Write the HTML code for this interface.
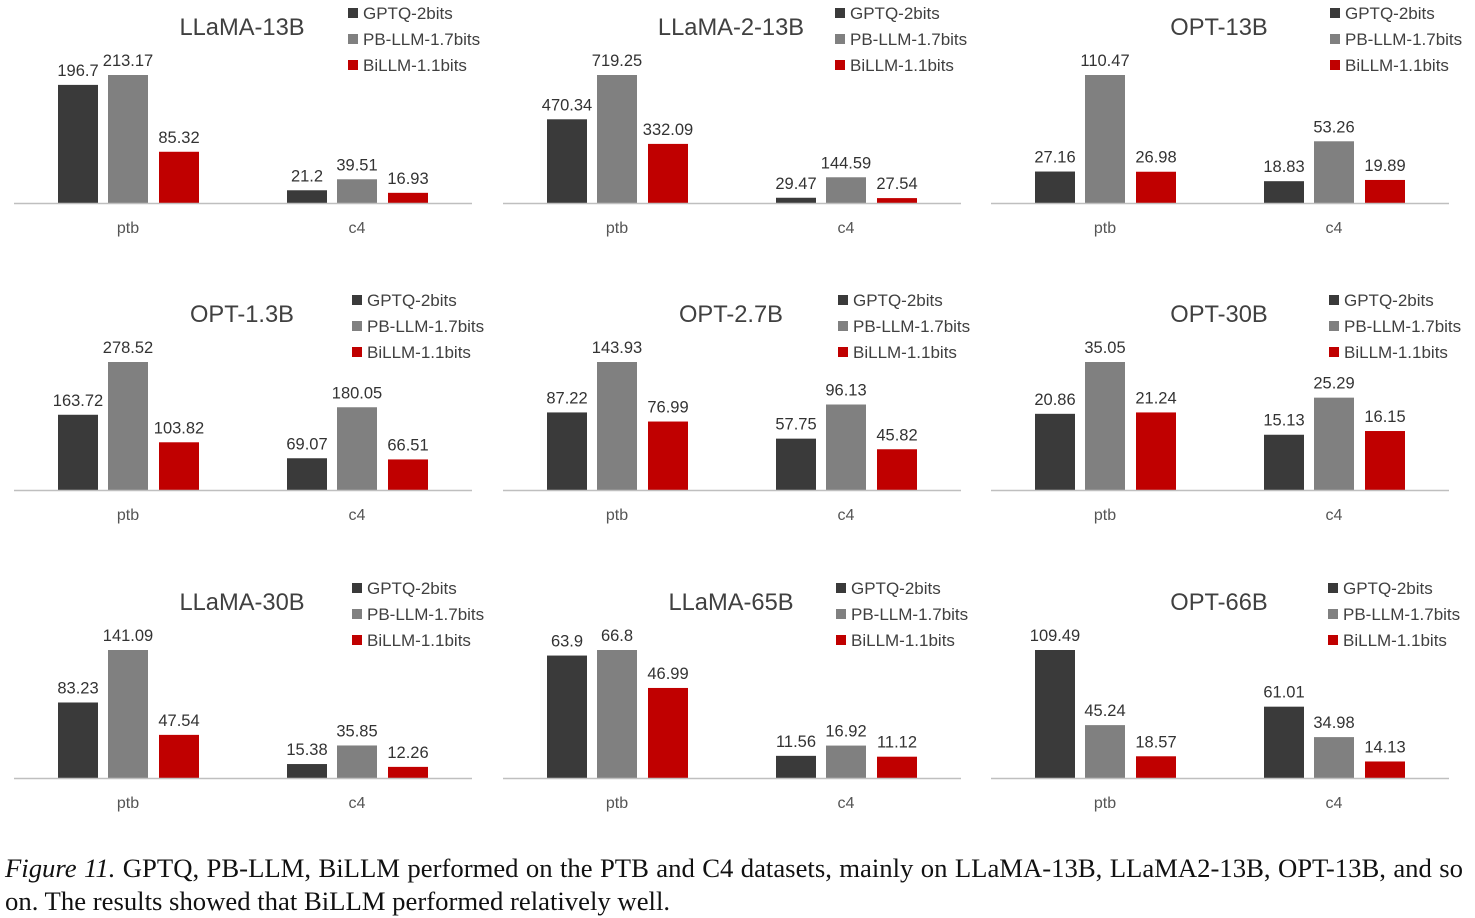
<!DOCTYPE html>
<html><head><meta charset="utf-8"><style>
html,body{margin:0;padding:0;background:#fff;}
body{width:1475px;height:918px;overflow:hidden;position:relative;font-family:"Liberation Sans",sans-serif;}
#cap{position:absolute;left:5px;top:852px;width:1458px;font-family:"Liberation Serif",serif;font-size:26.7px;color:#111;line-height:33px;}
#cap .l1{text-align:justify;text-align-last:justify;white-space:nowrap;}
</style></head><body>
<svg id="chart" width="1475" height="840" xmlns="http://www.w3.org/2000/svg"></svg>
<div id="cap">
<div class="l1"><i>Figure 11.</i> GPTQ, PB-LLM, BiLLM performed on the PTB and C4 datasets, mainly on LLaMA-13B, LLaMA2-13B, OPT-13B, and so</div>
<div>on. The results showed that BiLLM performed relatively well.</div>
</div>
<script>
const panelTitles = ["LLaMA-13B","LLaMA-2-13B","OPT-13B","OPT-1.3B","OPT-2.7B","OPT-30B","LLaMA-30B","LLaMA-65B","OPT-66B"];
const categories = ["ptb","c4"];
const seriesNames = ["GPTQ-2bits","PB-LLM-1.7bits","BiLLM-1.1bits"];
const gptqPtb = [196.7,470.34,27.16,163.72,87.22,20.86,83.23,63.9,109.49];
const pbPtb   = [213.17,719.25,110.47,278.52,143.93,35.05,141.09,66.8,45.24];
const billmPtb= [85.32,332.09,26.98,103.82,76.99,21.24,47.54,46.99,18.57];
const gptqC4  = [21.2,29.47,18.83,69.07,57.75,15.13,15.38,11.56,61.01];
const pbC4    = [39.51,144.59,53.26,180.05,96.13,25.29,35.85,16.92,34.98];
const billmC4 = [16.93,27.54,19.89,66.51,45.82,16.15,12.26,11.12,14.13];

const colors = ["#3a3a3a","#808080","#c00000"];
const NS = "http://www.w3.org/2000/svg";
const svg = document.getElementById("chart");
const colX = [14,503,991];
const rowBase = [203,490,778];
const legX = [[348,835,1330],[352,838,1329],[352,836,1328]];
const axisW = 458, maxH = 128, barW = 40;
const barOff = [[44,94,145],[273,323,374]];
const catCenter = [114,343];

function mk(tag, attrs, txt){
  const e = document.createElementNS(NS, tag);
  for (const k in attrs) e.setAttribute(k, attrs[k]);
  if (txt !== undefined) e.textContent = txt;
  svg.appendChild(e);
  return e;
}

for (let p = 0; p < 9; p++) {
  const r = Math.floor(p / 3), c = p % 3;
  const x0 = colX[c], base = rowBase[r];
  const vals = [[gptqPtb[p], pbPtb[p], billmPtb[p]], [gptqC4[p], pbC4[p], billmC4[p]]];
  const vmax = Math.max(...vals[0], ...vals[1]);
  const y = v => base - v / vmax * maxH;

  const t = mk("text", {x: x0 + 228, y: base - 168, "text-anchor": "middle", "font-size": 23.7, fill: "#404040"}, panelTitles[p]);
  
  

  for (let g = 0; g < 2; g++) {
    for (let s = 0; s < 3; s++) {
      const v = vals[g][s];
      const bx = x0 + barOff[g][s];
      const b = mk("rect", {x: bx, y: y(v), width: barW, height: base - y(v), fill: colors[s]});
      
      
      const l = mk("text", {x: bx + barW / 2, y: y(v) - 9, "text-anchor": "middle", "font-size": 16.5, fill: "#333"}, String(v));
      
      
    }
    const cl = mk("text", {x: x0 + catCenter[g], y: base + 30, "text-anchor": "middle", "font-size": 16, fill: "#555"}, categories[g]);
    
    
  }
  const ax = mk("line", {x1: x0, x2: x0 + axisW, y1: base + 0.5, y2: base + 0.5, stroke: "#bfbfbf", "stroke-width": 1.5});
  
  

  const lx = legX[r][c];
  for (let s = 0; s < 3; s++) {
    const ly = base - 190 + s * 26;
    const sw = mk("rect", {x: lx, y: ly - 5, width: 10, height: 10, fill: colors[s]});
    
    
    const lt = mk("text", {x: lx + 15, y: ly + 6, "font-size": 17, fill: "#404040"}, seriesNames[s]);
    
    
  }
}
</script>
</body></html>
